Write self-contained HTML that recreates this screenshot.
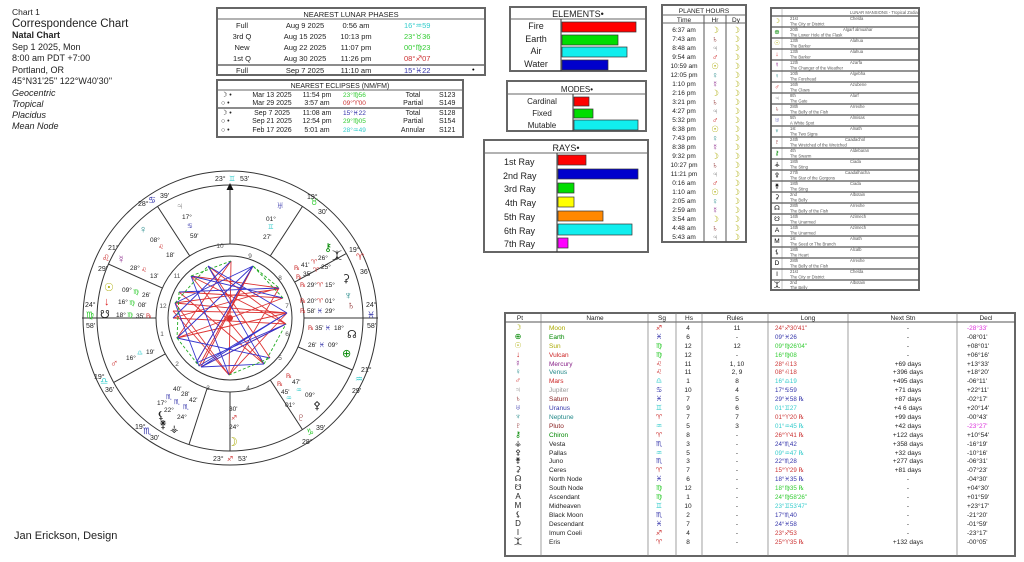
<!DOCTYPE html>
<html><head><meta charset="utf-8"><style>
html,body{margin:0;padding:0;background:#fff}
svg{display:block}
text{font-family:"Liberation Sans","DejaVu Sans",sans-serif}
.s{font-family:"DejaVu Sans","Liberation Sans",sans-serif}
</style></head><body>
<svg width="1024" height="562" viewBox="0 0 1024 562" xmlns="http://www.w3.org/2000/svg">
<rect width="1024" height="562" fill="#fff"/>
<!-- header -->
<g fill="#222">
<text x="12" y="15" font-size="8.5">Chart 1</text>
<text x="12" y="27" font-size="11.5">Correspondence Chart</text>
<text x="12" y="38" font-size="9" font-weight="bold">Natal Chart</text>
<text x="12" y="50" font-size="9">Sep 1 2025, Mon</text>
<text x="12" y="61" font-size="9">8:00 am  PDT +7:00</text>
<text x="12" y="73" font-size="9">Portland, OR</text>
<text x="12" y="84" font-size="9">45°N31'25'' 122°W40'30''</text>
<g font-style="italic" font-size="9"><text x="12" y="96">Geocentric</text><text x="12" y="107">Tropical</text><text x="12" y="118">Placidus</text><text x="12" y="129">Mean Node</text></g>
<text x="14" y="539" font-size="11">Jan Erickson, Design</text>
</g>
<!-- lunar phases -->
<rect x="217" y="8" width="268" height="67" fill="none" stroke="#666" stroke-width="2"/>
<line x1="217" y1="19" x2="485" y2="19" stroke="#666"/>
<line x1="217" y1="65" x2="485" y2="65" stroke="#666" stroke-width="1.5"/>
<g font-size="7.5" fill="#222" text-anchor="middle">
<text x="351" y="17">NEAREST LUNAR PHASES</text>
<text x="242" y="28">Full</text><text x="305" y="28">Aug 9 2025</text><text x="356" y="28">0:56 am</text>
<text x="242" y="39">3rd Q</text><text x="305" y="39">Aug 15 2025</text><text x="356" y="39">10:13 pm</text>
<text x="242" y="50">New</text><text x="305" y="50">Aug 22 2025</text><text x="356" y="50">11:07 pm</text>
<text x="242" y="61">1st Q</text><text x="305" y="61">Aug 30 2025</text><text x="356" y="61">11:26 pm</text>
<text x="242" y="73">Full</text><text x="305" y="73">Sep 7 2025</text><text x="356" y="73">11:10 am</text>
</g>
<g font-size="7.5" class="s">
<text x="404" y="28" fill="#3cc">16°♒59</text><text x="404" y="39" fill="#3c3">23°♉36</text>
<text x="404" y="50" fill="#3c3">00°♍23</text><text x="404" y="61" fill="#c33">08°♐07</text>
<text x="404" y="73" fill="#33a">15°♓22</text><text x="472" y="72" fill="#000">•</text>
</g>
<!-- eclipses -->
<rect x="217" y="80" width="246" height="57" fill="none" stroke="#666" stroke-width="2"/>
<line x1="217" y1="90" x2="463" y2="90" stroke="#666"/>
<line x1="217" y1="108" x2="463" y2="108" stroke="#666" stroke-width="1.5"/>
<g font-size="7" fill="#222">
<text x="340" y="88" text-anchor="middle">NEAREST ECLIPSES (NM/FM)</text>
<g class="s"><text x="221" y="97">☽ •</text><text x="221" y="105">○ •</text><text x="221" y="115">☽ •</text><text x="221" y="123">○ •</text><text x="221" y="132">○ •</text></g>
<g text-anchor="middle">
<text x="272" y="97">Mar 13 2025</text><text x="317" y="97">11:54 pm</text><text x="413" y="97">Total</text>
<text x="272" y="105">Mar 29 2025</text><text x="317" y="105">3:57 am</text><text x="413" y="105">Partial</text>
<text x="272" y="115">Sep 7 2025</text><text x="317" y="115">11:08 am</text><text x="413" y="115">Total</text>
<text x="272" y="123">Sep 21 2025</text><text x="317" y="123">12:54 pm</text><text x="413" y="123">Partial</text>
<text x="272" y="132">Feb 17 2026</text><text x="317" y="132">5:01 am</text><text x="413" y="132">Annular</text>
</g>
<text x="439" y="97">S123</text><text x="439" y="105">S149</text><text x="439" y="115">S128</text><text x="439" y="123">S154</text><text x="439" y="132">S121</text>
<g class="s" font-size="6.5">
<text x="343" y="97" fill="#3c3">23°♍56</text><text x="343" y="105" fill="#c33">09°♈00</text><text x="343" y="115" fill="#33a">15°♓22</text><text x="343" y="123" fill="#3c3">29°♍05</text><text x="343" y="132" fill="#3cc">28°♒49</text>
</g>
</g>
<!-- elements -->
<rect x="510" y="7" width="136" height="64" fill="none" stroke="#666" stroke-width="2"/>
<line x1="510" y1="19" x2="646" y2="19" stroke="#666"/><line x1="561" y1="19" x2="561" y2="71" stroke="#333"/>
<g font-size="9" fill="#222" text-anchor="middle"><text x="578" y="17">ELEMENTS•</text>
<text x="536" y="29">Fire</text><text x="536" y="42">Earth</text><text x="536" y="54">Air</text><text x="536" y="67">Water</text></g>
<g stroke="#333" stroke-width=".7"><rect x="562" y="22" width="74" height="10" fill="#f00"/><rect x="562" y="35" width="56" height="10" fill="#0d0"/><rect x="562" y="47" width="65" height="10" fill="#1ee"/><rect x="562" y="60" width="46" height="10" fill="#00c"/></g>
<!-- modes -->
<rect x="507" y="81" width="139" height="50" fill="none" stroke="#666" stroke-width="2"/>
<line x1="507" y1="94" x2="646" y2="94" stroke="#666"/><line x1="573" y1="94" x2="573" y2="131" stroke="#333"/>
<g font-size="8" fill="#222" text-anchor="middle"><text x="577" y="92">MODES•</text>
<text x="542" y="104">Cardinal</text><text x="542" y="116">Fixed</text><text x="542" y="128">Mutable</text></g>
<g stroke="#333" stroke-width=".7"><rect x="574" y="97" width="15" height="9" fill="#f00"/><rect x="574" y="109" width="19" height="9" fill="#0d0"/><rect x="574" y="120" width="64" height="10" fill="#1ee"/></g>
<!-- rays -->
<rect x="484" y="140" width="164" height="112" fill="none" stroke="#666" stroke-width="2"/>
<line x1="484" y1="153" x2="648" y2="153" stroke="#666"/><line x1="557" y1="153" x2="557" y2="252" stroke="#333"/>
<g font-size="9" fill="#222"><text x="566" y="151" text-anchor="middle">RAYS•</text>
<text x="504" y="165">1st Ray</text><text x="503" y="179">2nd Ray</text><text x="504" y="192">3rd Ray</text><text x="505" y="206">4th Ray</text><text x="504" y="220">5th Ray</text><text x="504" y="234">6th Ray</text><text x="504" y="247">7th Ray</text></g>
<g stroke="#333" stroke-width=".7"><rect x="558" y="155" width="28" height="10" fill="#f00"/><rect x="558" y="169" width="80" height="10" fill="#00c"/><rect x="558" y="183" width="16" height="10" fill="#0d0"/><rect x="558" y="197" width="16" height="10" fill="#ff0"/><rect x="558" y="211" width="45" height="10" fill="#f80"/><rect x="558" y="224" width="74" height="11" fill="#1ee"/><rect x="558" y="238" width="10" height="10" fill="#f0f"/></g>
<!-- planet hours -->
<rect x="662" y="5" width="84" height="237" fill="none" stroke="#666" stroke-width="2"/>
<line x1="662" y1="15" x2="746" y2="15" stroke="#666"/><line x1="662" y1="23" x2="746" y2="23" stroke="#666"/>
<line x1="704" y1="15" x2="704" y2="242" stroke="#555"/><line x1="726" y1="15" x2="726" y2="242" stroke="#555"/>
<g font-size="6.5" fill="#222" text-anchor="middle">
<text x="704" y="13">PLANET HOURS</text><text x="684" y="22">Time</text><text x="715" y="22">Hr</text><text x="736" y="22">Dy</text>
<text x="684" y="32">6:37 am</text><text x="684" y="41">7:43 am</text><text x="684" y="50">8:48 am</text><text x="684" y="59">9:54 am</text><text x="684" y="68">10:59 am</text><text x="684" y="77">12:05 pm</text><text x="684" y="86">1:10 pm</text><text x="684" y="95">2:16 pm</text><text x="684" y="104">3:21 pm</text><text x="684" y="113">4:27 pm</text><text x="684" y="122">5:32 pm</text><text x="684" y="131">6:38 pm</text><text x="684" y="140">7:43 pm</text><text x="684" y="149">8:38 pm</text><text x="684" y="158">9:32 pm</text><text x="684" y="167">10:27 pm</text><text x="684" y="176">11:21 pm</text><text x="684" y="185">0:16 am</text><text x="684" y="194">1:10 am</text><text x="684" y="203">2:05 am</text><text x="684" y="212">2:59 am</text><text x="684" y="221">3:54 am</text><text x="684" y="230">4:48 am</text><text x="684" y="239">5:43 am</text>
</g>
<g font-size="8.5" text-anchor="middle" class="s">
<text x="715" y="33" fill="#aa0">☽</text><text x="715" y="42" fill="#822">♄</text><text x="715" y="51" fill="#888">♃</text><text x="715" y="60" fill="#c22">♂</text><text x="715" y="69" fill="#aa0">☉</text><text x="715" y="78" fill="#288">♀</text><text x="715" y="87" fill="#828">☿</text>
<text x="715" y="96" fill="#aa0">☽</text><text x="715" y="105" fill="#822">♄</text><text x="715" y="114" fill="#888">♃</text><text x="715" y="123" fill="#c22">♂</text><text x="715" y="132" fill="#aa0">☉</text><text x="715" y="141" fill="#288">♀</text><text x="715" y="150" fill="#828">☿</text>
<text x="715" y="159" fill="#aa0">☽</text><text x="715" y="168" fill="#822">♄</text><text x="715" y="177" fill="#888">♃</text><text x="715" y="186" fill="#c22">♂</text><text x="715" y="195" fill="#aa0">☉</text><text x="715" y="204" fill="#288">♀</text><text x="715" y="213" fill="#828">☿</text><text x="715" y="222" fill="#aa0">☽</text><text x="715" y="231" fill="#822">♄</text><text x="715" y="240" fill="#888">♃</text>
</g>
<g font-size="8.5" text-anchor="middle" class="s" fill="#aa0">
<text x="736" y="33">☽</text><text x="736" y="42">☽</text><text x="736" y="51">☽</text><text x="736" y="60">☽</text><text x="736" y="69">☽</text><text x="736" y="78">☽</text><text x="736" y="87">☽</text><text x="736" y="96">☽</text><text x="736" y="105">☽</text><text x="736" y="114">☽</text><text x="736" y="123">☽</text><text x="736" y="132">☽</text><text x="736" y="141">☽</text><text x="736" y="150">☽</text><text x="736" y="159">☽</text><text x="736" y="168">☽</text><text x="736" y="177">☽</text><text x="736" y="186">☽</text><text x="736" y="195">☽</text><text x="736" y="204">☽</text><text x="736" y="213">☽</text><text x="736" y="222">☽</text><text x="736" y="231">☽</text><text x="736" y="240">☽</text>
</g>
<!-- lunar mansions -->
<rect x="771" y="8" width="148" height="282" fill="none" stroke="#666" stroke-width="2"/>
<line x1="782" y1="8" x2="782" y2="290" stroke="#888" stroke-width=".5"/>
<g stroke="#555" stroke-width="1.2">
<line x1="771" y1="16" x2="919" y2="16"/><line x1="771" y1="27" x2="919" y2="27"/><line x1="771" y1="38" x2="919" y2="38"/><line x1="771" y1="49" x2="919" y2="49"/><line x1="771" y1="60" x2="919" y2="60"/><line x1="771" y1="71" x2="919" y2="71"/><line x1="771" y1="82" x2="919" y2="82"/><line x1="771" y1="93" x2="919" y2="93"/><line x1="771" y1="104" x2="919" y2="104"/><line x1="771" y1="115" x2="919" y2="115"/><line x1="771" y1="126" x2="919" y2="126"/><line x1="771" y1="137" x2="919" y2="137"/><line x1="771" y1="148" x2="919" y2="148"/><line x1="771" y1="159" x2="919" y2="159"/><line x1="771" y1="170" x2="919" y2="170"/><line x1="771" y1="181" x2="919" y2="181"/><line x1="771" y1="192" x2="919" y2="192"/><line x1="771" y1="203" x2="919" y2="203"/><line x1="771" y1="214" x2="919" y2="214"/><line x1="771" y1="225" x2="919" y2="225"/><line x1="771" y1="236" x2="919" y2="236"/><line x1="771" y1="247" x2="919" y2="247"/><line x1="771" y1="258" x2="919" y2="258"/><line x1="771" y1="269" x2="919" y2="269"/><line x1="771" y1="280" x2="919" y2="280"/>
</g>
<g font-size="4.2" fill="#555">
<text x="850" y="14">LUNAR MANSIONS - Tropical Zodiac</text>
<text x="790" y="20">21st</text><text x="850" y="20">Chelda</text><text x="790" y="25.5">The City or District</text>
<text x="790" y="31">20th</text><text x="843" y="31">Algarf almuahar</text><text x="790" y="36.5">The Lower Hole of the Flask</text>
<text x="790" y="42">13th</text><text x="850" y="42">Alahua</text><text x="790" y="47.5">The Barker</text>
<text x="790" y="53">13th</text><text x="850" y="53">Alahua</text><text x="790" y="58.5">The Barker</text>
<text x="790" y="64">12th</text><text x="850" y="64">Azarfa</text><text x="790" y="69.5">The Changer of the Weather</text>
<text x="790" y="75">10th</text><text x="850" y="75">Algebha</text><text x="790" y="80.5">The Forehead</text>
<text x="790" y="86">16th</text><text x="850" y="86">Azubene</text><text x="790" y="91.5">The Claws</text>
<text x="790" y="97">8th</text><text x="850" y="97">Alarf</text><text x="790" y="102.5">The Gate</text>
<text x="790" y="108">28th</text><text x="850" y="108">Arrexhe</text><text x="790" y="113.5">The Belly of the Fish</text>
<text x="790" y="119">5th</text><text x="850" y="119">Almisas</text><text x="790" y="124.5">A White Spot</text>
<text x="790" y="130">1st</text><text x="850" y="130">Alnath</text><text x="790" y="135.5">The Two Signs</text>
<text x="790" y="141">24th</text><text x="845" y="141">Caadachol</text><text x="790" y="146.5">The Wretched of the Wretched</text>
<text x="790" y="152">4th</text><text x="850" y="152">Aldebaran</text><text x="790" y="157.5">The Swarm</text>
<text x="790" y="163">18th</text><text x="850" y="163">Ciada</text><text x="790" y="168.5">The Sting</text>
<text x="790" y="174">27th</text><text x="845" y="174">Caadalhacha</text><text x="790" y="179.5">The Star of the Gorgons</text>
<text x="790" y="185">18th</text><text x="850" y="185">Ciada</text><text x="790" y="190.5">The Sting</text>
<text x="790" y="196">2nd</text><text x="850" y="196">Albotain</text><text x="790" y="201.5">The Belly</text>
<text x="790" y="207">28th</text><text x="850" y="207">Arrexhe</text><text x="790" y="212.5">The Belly of the Fish</text>
<text x="790" y="218">14th</text><text x="850" y="218">Azimech</text><text x="790" y="223.5">The Unarmed</text>
<text x="790" y="229">14th</text><text x="850" y="229">Azimech</text><text x="790" y="234.5">The Unarmed</text>
<text x="790" y="240">1st</text><text x="850" y="240">Alnath</text><text x="790" y="245.5">The Seed or The Branch</text>
<text x="790" y="251">18th</text><text x="850" y="251">Alcalb</text><text x="790" y="256.5">The Heart</text>
<text x="790" y="262">28th</text><text x="850" y="262">Arrexhe</text><text x="790" y="267.5">The Belly of the Fish</text>
<text x="790" y="273">21st</text><text x="850" y="273">Chelda</text><text x="790" y="278.5">The City or District</text>
<text x="790" y="284">2nd</text><text x="850" y="284">Albotain</text><text x="790" y="289">The Belly</text>
</g>
<g font-size="6.5" class="s" text-anchor="middle">
<text x="777" y="23" fill="#aa0">☽</text><text x="777" y="34" fill="#080">⊕</text><text x="777" y="45" fill="#aa0">☉</text><text x="777" y="56" fill="#c22">↓</text><text x="777" y="67" fill="#828">☿</text><text x="777" y="78" fill="#288">♀</text><text x="777" y="89" fill="#c22">♂</text><text x="777" y="100" fill="#888">♃</text><text x="777" y="111" fill="#822">♄</text><text x="777" y="122" fill="#33a">♅</text><text x="777" y="133" fill="#288">♆</text><text x="777" y="144" fill="#822">♇</text><text x="777" y="155" fill="#080">⚷</text><text x="777" y="166">⚶</text><text x="777" y="177">⚴</text><text x="777" y="188">⚵</text><text x="777" y="199">⚳</text><text x="777" y="210">☊</text><text x="777" y="221">☋</text><text x="777" y="232">A</text><text x="777" y="243">M</text><text x="777" y="254">⚸</text><text x="777" y="265">D</text><text x="777" y="276">I</text><text x="777" y="287">⯰</text>
</g>
<!-- bottom table -->
<rect x="505" y="313" width="510" height="243" fill="none" stroke="#666" stroke-width="2"/>
<line x1="505" y1="322" x2="1015" y2="322" stroke="#555"/>
<g stroke="#777" stroke-width=".7"><line x1="541" y1="313" x2="541" y2="556"/><line x1="648" y1="313" x2="648" y2="556"/><line x1="676" y1="313" x2="676" y2="556"/><line x1="702" y1="313" x2="702" y2="556"/><line x1="768" y1="313" x2="768" y2="556"/><line x1="848" y1="313" x2="848" y2="556"/><line x1="957" y1="313" x2="957" y2="556"/></g>
<g font-size="6.5" fill="#222" text-anchor="middle">
<text x="520" y="320">Pt</text><text x="595" y="320">Name</text><text x="662" y="320">Sg</text><text x="689" y="320">Hs</text><text x="735" y="320">Rules</text><text x="808" y="320">Long</text><text x="903" y="320">Next Stn</text><text x="986" y="320">Decl</text>
</g>
<g font-size="6.5" fill="#222">
<g text-anchor="middle" class="s" font-size="8">
<text x="518" y="330" fill="#aa0">☽</text><text x="518" y="339" fill="#080">⊕</text><text x="518" y="348" fill="#aa0">☉</text><text x="518" y="357" fill="#c22">↓</text><text x="518" y="366" fill="#828">☿</text><text x="518" y="374" fill="#288">♀</text><text x="518" y="383" fill="#c22">♂</text><text x="518" y="392" fill="#888">♃</text><text x="518" y="401" fill="#822">♄</text><text x="518" y="410" fill="#33a">♅</text><text x="518" y="419" fill="#288">♆</text><text x="518" y="428" fill="#822">♇</text><text x="518" y="437" fill="#080">⚷</text><text x="518" y="446">⚶</text><text x="518" y="455">⚴</text><text x="518" y="463">⚵</text><text x="518" y="472">⚳</text><text x="518" y="481">☊</text><text x="518" y="490">☋</text><text x="518" y="499">A</text><text x="518" y="508">M</text><text x="518" y="517">⚸</text><text x="518" y="526">D</text><text x="518" y="535">I</text><text x="518" y="544">⯰</text>
</g>
<g text-anchor="middle" class="s" font-size="7">
<text x="659" y="330" fill="#c33">♐</text><text x="659" y="339" fill="#33a">♓</text><text x="659" y="348" fill="#3c3">♍</text><text x="659" y="357" fill="#3c3">♍</text><text x="659" y="366" fill="#c33">♌</text><text x="659" y="374" fill="#c33">♌</text><text x="659" y="383" fill="#3cc">♎</text><text x="659" y="392" fill="#33a">♋</text><text x="659" y="401" fill="#33a">♓</text><text x="659" y="410" fill="#3cc">♊</text><text x="659" y="419" fill="#c33">♈</text><text x="659" y="428" fill="#3cc">♒</text><text x="659" y="437" fill="#c33">♈</text><text x="659" y="446" fill="#33a">♏</text><text x="659" y="455" fill="#3cc">♒</text><text x="659" y="463" fill="#33a">♏</text><text x="659" y="472" fill="#c33">♈</text><text x="659" y="481" fill="#33a">♓</text><text x="659" y="490" fill="#3c3">♍</text><text x="659" y="499" fill="#3c3">♍</text><text x="659" y="508" fill="#3cc">♊</text><text x="659" y="517" fill="#33a">♏</text><text x="659" y="526" fill="#33a">♓</text><text x="659" y="535" fill="#c33">♐</text><text x="659" y="544" fill="#c33">♈</text>
</g>
<text x="549" y="330" fill="#aa0">Moon</text><text x="549" y="339" fill="#080">Earth</text><text x="549" y="348" fill="#aa0">Sun</text><text x="549" y="357" fill="#c22">Vulcan</text><text x="549" y="366" fill="#828">Mercury</text><text x="549" y="374" fill="#288">Venus</text><text x="549" y="383" fill="#c22">Mars</text><text x="549" y="392" fill="#999">Jupiter</text><text x="549" y="401" fill="#822">Saturn</text><text x="549" y="410" fill="#33a">Uranus</text><text x="549" y="419" fill="#288">Neptune</text><text x="549" y="428" fill="#822">Pluto</text><text x="549" y="437" fill="#080">Chiron</text><text x="549" y="446">Vesta</text><text x="549" y="455">Pallas</text><text x="549" y="463">Juno</text><text x="549" y="472">Ceres</text><text x="549" y="481">North Node</text><text x="549" y="490">South Node</text><text x="549" y="499">Ascendant</text><text x="549" y="508">Midheaven</text><text x="549" y="517">Black Moon</text><text x="549" y="526">Descendant</text><text x="549" y="535">Imum Coeli</text><text x="549" y="544">Eris</text>
<g text-anchor="middle">
<text x="688" y="330">4</text><text x="688" y="339">6</text><text x="688" y="348">12</text><text x="688" y="357">12</text><text x="688" y="366">11</text><text x="688" y="374">11</text><text x="688" y="383">1</text><text x="688" y="392">10</text><text x="688" y="401">7</text><text x="688" y="410">9</text><text x="688" y="419">7</text><text x="688" y="428">5</text><text x="688" y="437">8</text><text x="688" y="446">3</text><text x="688" y="455">5</text><text x="688" y="463">3</text><text x="688" y="472">7</text><text x="688" y="481">6</text><text x="688" y="490">12</text><text x="688" y="499">1</text><text x="688" y="508">10</text><text x="688" y="517">2</text><text x="688" y="526">7</text><text x="688" y="535">4</text><text x="688" y="544">8</text>
<text x="737" y="330">11</text><text x="737" y="339">-</text><text x="737" y="348">12</text><text x="737" y="357">-</text><text x="737" y="366">1, 10</text><text x="737" y="374">2, 9</text><text x="737" y="383">8</text><text x="737" y="392">4</text><text x="737" y="401">5</text><text x="737" y="410">6</text><text x="737" y="419">7</text><text x="737" y="428">3</text><text x="737" y="437">-</text><text x="737" y="446">-</text><text x="737" y="455">-</text><text x="737" y="463">-</text><text x="737" y="472">-</text><text x="737" y="481">-</text><text x="737" y="490">-</text><text x="737" y="499">-</text><text x="737" y="508">-</text><text x="737" y="517">-</text><text x="737" y="526">-</text><text x="737" y="535">-</text><text x="737" y="544">-</text>
<text x="908" y="330">-</text><text x="908" y="339">-</text><text x="908" y="348">-</text><text x="908" y="357">-</text><text x="908" y="366">+69 days</text><text x="908" y="374">+396 days</text><text x="908" y="383">+495 days</text><text x="908" y="392">+71 days</text><text x="908" y="401">+87 days</text><text x="908" y="410">+4 6 days</text><text x="908" y="419">+99 days</text><text x="908" y="428">+42 days</text><text x="908" y="437">+122 days</text><text x="908" y="446">+358 days</text><text x="908" y="455">+32 days</text><text x="908" y="463">+277 days</text><text x="908" y="472">+81 days</text><text x="908" y="481">-</text><text x="908" y="490">-</text><text x="908" y="499">-</text><text x="908" y="508">-</text><text x="908" y="517">-</text><text x="908" y="526">-</text><text x="908" y="535">-</text><text x="908" y="544">+132 days</text>
</g>
<g class="s" font-size="6.2">
<text x="775" y="330" fill="#c33">24°♐30'41"</text><text x="775" y="339" fill="#33a">09°♓26</text><text x="775" y="348" fill="#3c3">09°♍26'04"</text><text x="775" y="357" fill="#3c3">16°♍08</text><text x="775" y="366" fill="#c33">28°♌13</text><text x="775" y="374" fill="#c33">08°♌18</text><text x="775" y="383" fill="#3cc">16°♎19</text><text x="775" y="392" fill="#33a">17°♋59</text><text x="775" y="401" fill="#33a">29°♓58 ℞</text><text x="775" y="410" fill="#3cc">01°♊27</text><text x="775" y="419" fill="#c33">01°♈20 ℞</text><text x="775" y="428" fill="#3cc">01°♒45 ℞</text><text x="775" y="437" fill="#c33">26°♈41 ℞</text><text x="775" y="446" fill="#33a">24°♏42</text><text x="775" y="455" fill="#3cc">09°♒47 ℞</text><text x="775" y="463" fill="#33a">22°♏28</text><text x="775" y="472" fill="#c33">15°♈29 ℞</text><text x="775" y="481" fill="#33a">18°♓35 ℞</text><text x="775" y="490" fill="#3c3">18°♍35 ℞</text><text x="775" y="499" fill="#3c3">24°♍58'26"</text><text x="775" y="508" fill="#3cc">23°♊53'47"</text><text x="775" y="517" fill="#33a">17°♏40</text><text x="775" y="526" fill="#33a">24°♓58</text><text x="775" y="535" fill="#c33">23°♐53</text><text x="775" y="544" fill="#c33">25°♈35 ℞</text>
</g>
<g>
<text x="967" y="330" fill="#d3d">-28°33'</text><text x="967" y="339">-08°01'</text><text x="967" y="348">+08°01'</text><text x="967" y="357">+06°16'</text><text x="967" y="366">+13°33'</text><text x="967" y="374">+18°20'</text><text x="967" y="383">-06°11'</text><text x="967" y="392">+22°11'</text><text x="967" y="401">-02°17'</text><text x="967" y="410">+20°14'</text><text x="967" y="419">-00°43'</text><text x="967" y="428" fill="#d3d">-23°27'</text><text x="967" y="437">+10°54'</text><text x="967" y="446">-16°19'</text><text x="967" y="455">-10°16'</text><text x="967" y="463">-06°31'</text><text x="967" y="472">-07°23'</text><text x="967" y="481">-04°30'</text><text x="967" y="490">+04°30'</text><text x="967" y="499">+01°59'</text><text x="967" y="508">+23°17'</text><text x="967" y="517">-21°20'</text><text x="967" y="526">-01°59'</text><text x="967" y="535">-23°17'</text><text x="967" y="544">-00°05'</text>
</g>
</g>
<!-- WHEEL -->
<g fill="none" stroke="#333" stroke-width="1">
<circle cx="230" cy="318" r="147"/><circle cx="230" cy="318" r="133"/><circle cx="230" cy="318" r="74"/><circle cx="230" cy="318" r="62"/>
</g>
<g stroke="#333" stroke-width="1">
<line x1="82" y1="318" x2="156" y2="318"/><line x1="304" y1="318" x2="378" y2="318"/>
<line x1="230" y1="185" x2="230" y2="244"/><line x1="230" y1="392" x2="230" y2="451"/>
<line x1="189.7" y1="255.9" x2="157.6" y2="206.5"/><line x1="162.4" y1="288.1" x2="108.5" y2="264.1"/>
<line x1="165.2" y1="353.9" x2="113.6" y2="382.5"/><line x1="207.1" y1="388.4" x2="189" y2="444.5"/>
<line x1="270.3" y1="380.1" x2="302.4" y2="429.5"/><line x1="298.1" y1="346.9" x2="352.4" y2="370"/>
<line x1="294.7" y1="282.1" x2="346.3" y2="253.5"/><line x1="270.3" y1="255.9" x2="302.4" y2="206.5"/>
</g>
<path d="M230 183 l-3.5 7 h7 z" fill="#111"/>
<!-- aspect lines -->
<g stroke-width=".9" fill="none">
<g stroke="#d33">
<path d="M175 303 L287 313 M175 303 L229 375 M229 375 L287 313 M179 292 L264 364 M191 276 L286 324 M177 338 L287 313 M208 266 L270 358 M253 266 L201 367 M253 266 L199 366 M279 288 L191 276 M283 298 L177 338 M229 375 L279 288 M173 318 L286 324 M231 261 L229 375 M173 311 L287 313 M196 363 L253 266 M208 266 L286 324 M191 276 L264 364 M175 303 L279 289 M177 338 L231 261 M179 292 L283 298 M201 367 L286 324 M173 318 L279 288 M229 375 L173 311"/>
</g>
<g stroke="#33c">
<path d="M175 303 L199 366 M175 303 L253 266 M208 266 L287 313 M208 266 L264 364 M179 292 L279 288 M191 276 L283 298 M177 338 L253 266 M201 367 L286 324 M199 366 L287 313 M264 364 L201 367 M231 261 L173 318 M229 375 L191 276 M270 358 L177 338 M286 324 L196 363 M253 266 L196 363 M201 367 L287 313"/>
</g>
<g stroke="#2a2" stroke-dasharray="3 2">
<path d="M175 303 L208 266 M191 276 L231 261 M253 266 L279 288 M264 364 L286 324 M229 375 L270 358 M177 338 L199 366 M283 298 L253 266 M179 292 L177 338"/>
</g>
</g>
<circle cx="230" cy="318" r="3" fill="#d33"/>
<!-- house numbers -->
<g font-size="6.5" fill="#555" text-anchor="middle">
<text x="220" y="248">10</text><text x="250" y="258">9</text><text x="280" y="280">8</text><text x="287" y="308">7</text><text x="287" y="336">6</text><text x="280" y="360">5</text><text x="248" y="390">4</text><text x="208" y="390">3</text><text x="177" y="366">2</text><text x="162" y="336">1</text><text x="163" y="308">12</text><text x="177" y="278">11</text>
</g>
<!-- zodiac cusp labels -->
<g font-size="7" fill="#222" class="s">
<text x="215" y="181">23°</text><text x="229" y="181" fill="#3cc">♊</text><text x="240" y="181">53'</text>
<text x="213" y="461">23°</text><text x="227" y="461" fill="#c33">♐</text><text x="238" y="461">53'</text>
<text x="85" y="307">24°</text><text x="86" y="318" fill="#3c3" font-size="9">♍</text><text x="86" y="328">58'</text>
<text x="366" y="307">24°</text><text x="367" y="318" fill="#33a" font-size="9">♓</text><text x="367" y="328">58'</text>
<text x="307" y="199">19°</text><text x="310" y="205" fill="#3c3" font-size="9">♉</text><text x="318" y="214">30'</text>
<text x="349" y="252">19°</text><text x="356" y="260" fill="#c33" font-size="9">♈</text><text x="360" y="274">36'</text>
<text x="361" y="372">21°</text><text x="355" y="382" fill="#3cc" font-size="9">♒</text><text x="352" y="393">29'</text>
<text x="302" y="444">28°</text><text x="306" y="435" fill="#3c3" font-size="9">♑</text><text x="316" y="430">39'</text>
<text x="135" y="429">19°</text><text x="143" y="434" fill="#33a" font-size="9">♏</text><text x="150" y="440">30'</text>
<text x="94" y="379">19°</text><text x="100" y="384" fill="#3cc" font-size="9">♎</text><text x="105" y="392">36'</text>
<text x="108" y="250">21°</text><text x="102" y="261" fill="#c33" font-size="9">♌</text><text x="98" y="271">29'</text>
<text x="138" y="206">28°</text><text x="148" y="203" fill="#33a" font-size="9">♋</text><text x="160" y="198">39'</text>
</g>
<!-- planets in wheel -->
<g font-size="6.5" fill="#222" class="s">
<text x="276" y="209" fill="#33a" font-size="11">♅</text><text x="266" y="221">01°</text><text x="268" y="229" fill="#3cc">♊</text><text x="263" y="239">27'</text>
<text x="176" y="209" fill="#888" font-size="10">♃</text><text x="182" y="219">17°</text><text x="187" y="228" fill="#33a">♋</text><text x="190" y="238">59'</text>
<text x="139" y="233" fill="#288" font-size="11">♀</text><text x="150" y="242">08°</text><text x="158" y="249" fill="#c33">♌</text><text x="166" y="257">18'</text>
<text x="117" y="263" fill="#828" font-size="11">☿</text><text x="130" y="270">28°</text><text x="141" y="272" fill="#c33">♌</text><text x="150" y="278">13'</text>
<text x="104" y="291" fill="#aa0" font-size="11">☉</text><text x="122" y="292">09°</text><text x="133" y="294" fill="#3c3">♍</text><text x="142" y="297">26'</text>
<text x="104" y="305" fill="#d22" font-size="11">↓</text><text x="118" y="304">16°</text><text x="129" y="305" fill="#3c3">♍</text><text x="138" y="307">08'</text>
<text x="100" y="318" font-size="11">☋</text><text x="116" y="317">18°</text><text x="127" y="317" fill="#3c3">♍</text><text x="136" y="318">35'</text><text x="146" y="318" fill="#c33">℞</text>
<text x="110" y="367" fill="#c33" font-size="11">♂</text><text x="126" y="360">16°</text><text x="137" y="355" fill="#3cc">♎</text><text x="146" y="354">19'</text>
<text x="157" y="419" font-size="11">⚸</text><text x="159" y="428" font-size="11">⚵</text><text x="170" y="432" font-size="10">⚶</text>
<text x="173" y="391">40'</text><text x="181" y="396">28'</text><text x="189" y="402">42'</text>
<text x="166" y="399" fill="#33a">♏</text><text x="174" y="404" fill="#33a">♏</text><text x="183" y="409" fill="#33a">♏</text>
<text x="157" y="405">17°</text><text x="164" y="412">22°</text><text x="177" y="419">24°</text>
<text x="227" y="446" fill="#aa0" font-size="12">☽</text><text x="229" y="411">30'</text><text x="231" y="420" fill="#c33">♐</text><text x="229" y="429">24°</text>
<text x="297" y="421" fill="#822" font-size="11">♇</text><text x="313" y="409" font-size="11">⚴</text><text x="305" y="397">09°</text><text x="296" y="392" fill="#3cc">♒</text><text x="286" y="400" fill="#3cc">♒</text><text x="285" y="407">01°</text><text x="292" y="384">47'</text><text x="281" y="394">45'</text><text x="286" y="378" fill="#c33">℞</text><text x="277" y="386" fill="#c33">℞</text>
<text x="342" y="357" fill="#080" font-size="11">⊕</text><text x="308" y="347">26'</text><text x="319" y="347" fill="#33a">♓</text><text x="328" y="347">09°</text>
<text x="347" y="338" font-size="11">☊</text><text x="308" y="330" fill="#c33">℞</text><text x="315" y="330">35'</text><text x="325" y="330" fill="#33a">♓</text><text x="334" y="330">18°</text>
<text x="347" y="309" fill="#822" font-size="11">♄</text><text x="344" y="299" fill="#288" font-size="11">♆</text>
<text x="300" y="313" fill="#c33">℞</text><text x="307" y="313">58'</text><text x="317" y="313" fill="#33a">♓</text><text x="325" y="313">29°</text>
<text x="300" y="303" fill="#c33">℞</text><text x="307" y="303">20°</text><text x="317" y="303" fill="#c33">♈</text><text x="325" y="303">01°</text>
<text x="342" y="282" font-size="11">⚳</text><text x="300" y="287" fill="#c33">℞</text><text x="307" y="287">29°</text><text x="317" y="287" fill="#c33">♈</text><text x="325" y="287">15°</text>
<text x="324" y="251" fill="#080" font-size="11">⚷</text><text x="332" y="259" font-size="10">⯰</text>
<text x="294" y="270" fill="#c33">℞</text><text x="301" y="267">41'</text><text x="311" y="264" fill="#c33">♈</text><text x="318" y="260">26°</text>
<text x="296" y="279" fill="#c33">℞</text><text x="303" y="276">35'</text><text x="313" y="272" fill="#c33">♈</text><text x="321" y="269">25°</text>
</g>
</svg>
</body></html>
